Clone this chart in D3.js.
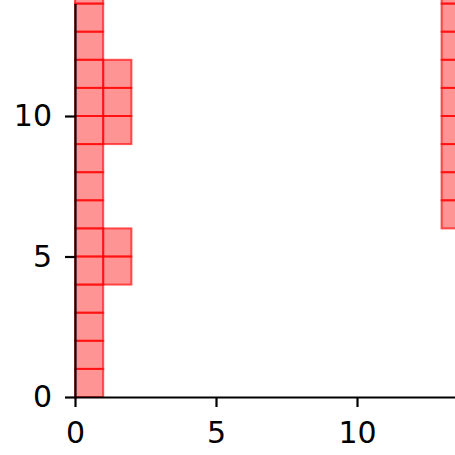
<!DOCTYPE html>
<html>
<head>
<meta charset="utf-8">
<script src="https://cdn.jsdelivr.net/npm/d3@7"></script>
<style>
  body { margin: 0; background: #fff; }
  svg { display: block; font-family: "DejaVu Sans", sans-serif; }
</style>
</head>
<body>
<div id="chart"></div>
<script>
// filled unit cells, one entry per cell: column index and row index
var cellCols = [0, 0, 0, 0, 0, 0, 0, 0, 0, 0, 0, 0, 0, 0, 0,
                1, 1, 1, 1, 1,
                13, 13, 13, 13, 13, 13, 13, 13, 13];
var cellRows = [0, 1, 2, 3, 4, 5, 6, 7, 8, 9, 10, 11, 12, 13, 14,
                4, 5, 9, 10, 11,
                6, 7, 8, 9, 10, 11, 12, 13, 14];
var xTicks = [0, 5, 10];
var yTicks = [0, 5, 10];

var width = 455, height = 455;
var cells = cellCols.map(function(c, i) { return { col: c, row: cellRows[i] }; });

var svg = d3.select("#chart").append("svg")
    .attr("width", width)
    .attr("height", height);

var x = d3.scaleLinear().domain([0, 14]).range([75, 75 + 14 * 28.2]);
var y = d3.scaleLinear().domain([0, 14]).range([397, 397 - 14 * 28.1]);

svg.append("g")
    .selectAll("rect")
    .data(cells)
    .enter().append("rect")
    .attr("x", function(d) { return x(d.col); })
    .attr("y", function(d) { return y(d.row + 1); })
    .attr("width", function(d) { return x(d.col + 1) - x(d.col); })
    .attr("height", function(d) { return y(d.row) - y(d.row + 1); })
    .attr("fill", "rgba(255,0,0,0.42)")
    .attr("stroke", "rgba(255,0,0,0.65)")
    .attr("stroke-width", 2);

var xAxis = svg.append("g")
    .attr("transform", "translate(0," + y(0) + ")")
    .call(d3.axisBottom(x).tickValues(xTicks).tickSize(10).tickPadding(15).tickSizeOuter(0));
var yAxis = svg.append("g")
    .attr("transform", "translate(" + x(0) + ",0)")
    .call(d3.axisLeft(y).tickValues(yTicks).tickSize(10).tickPadding(13).tickSizeOuter(0));

[xAxis, yAxis].forEach(function(g) {
    g.selectAll(".domain").attr("stroke", "#000").attr("stroke-width", 2.2);
    g.selectAll(".tick line").attr("stroke", "#000").attr("stroke-width", 2.2);
    g.selectAll(".tick text").attr("fill", "#000").style("font-size", "30px")
        .style("font-family", "DejaVu Sans, sans-serif");
});
</script>
</body>
</html>
